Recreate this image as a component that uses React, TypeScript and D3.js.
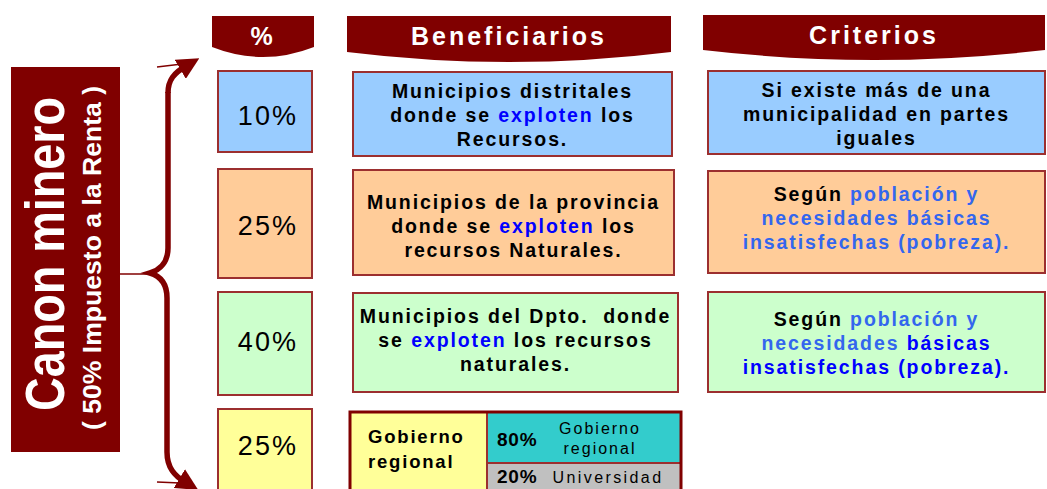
import React from "react";
import * as d3 from "d3";

// ---------- data ----------
const K = "#000000";
const B = "#0000ff";
const LB = "#3366ee";

const headers = ["%", "Beneficiarios", "Criterios"];
const shares = ["10%", "25%", "40%", "25%"];
const rowFills = ["#99ccff", "#ffcc99", "#ccffcc", "#ffff99"];

type Seg = [string, string];
const beneficiarios: Seg[][][] = [
  [[["Municipios distritales", K]], [["donde se ", K], ["exploten", B], [" los", K]], [["Recursos.", K]]],
  [[["Municipios de la provincia", K]], [["donde se ", K], ["exploten", B], [" los", K]], [["recursos Naturales.", K]]],
  [[["Municipios del Dpto.  donde", K]], [["se ", K], ["exploten", B], [" los recursos", K]], [["naturales.", K]]],
];
const criterios: Seg[][][] = [
  [[["Si existe más de una", K]], [["municipalidad en partes", K]], [["iguales", K]]],
  [[["Según ", K], ["población y", LB]], [["necesidades básicas", LB]], [["insatisfechas (pobreza).", LB]]],
  [[["Según ", K], ["población y", LB]], [["necesidades ", LB], ["básicas", B]], [["insatisfechas (pobreza).", B]]],
];
const regionLabel = ["Gobierno", "regional"];
const subShares = ["80%", "20%"];
const subNames = [["Gobierno", "regional"], ["Universidad"]];
const subFills = ["#33cccc", "#c0c0c0"];
const titleMain = "Canon minero";
const titleSub = "( 50% Impuesto a la Renta )";

// ---------- layout ----------
const W = 1047, H = 489;
const DARK = "#800000";
const EDGE = "#9c2f2f";
const FONT = "'Liberation Sans', Arial, sans-serif";

const headerBoxes = [
  { x0: 212, x1: 314, top: 16, side: 47, mid: 57 },
  { x0: 347, x1: 671, top: 16, side: 52, mid: 62 },
  { x0: 703, x1: 1045, top: 15, side: 50, mid: 60 },
];
const pctBoxes = [
  { x0: 218, x1: 312, y0: 71, y1: 152, dy: 4 },
  { x0: 218, x1: 312, y0: 169, y1: 278, dy: 2 },
  { x0: 218, x1: 312, y0: 292, y1: 395, dy: -2 },
  { x0: 218, x1: 312, y0: 409, y1: 500, dy: -9 },
];
const benBoxes = [
  { x0: 353, x1: 672, y0: 72, y1: 156, dy: 8 },
  { x0: 353, x1: 674, y0: 170, y1: 275, dy: 10 },
  { x0: 353, x1: 678, y0: 293, y1: 392, dy: 4.5 },
];
const critBoxes = [
  { x0: 708, x1: 1045, y0: 71, y1: 154, dy: 8.5 },
  { x0: 708, x1: 1045, y0: 171, y1: 273, dy: 3 },
  { x0: 708, x1: 1045, y0: 292, y1: 392, dy: 8 },
];
const bottom = { x0: 350, split: 487, x1: 681, y0: 412, mid: 463, y1: 500 };

const LINE = 24;

function MultiLine({ lines, cx, cy }: { lines: Seg[][]; cx: number; cy: number }) {
  const n = lines.length;
  const pos = d3.scaleLinear().domain([0, n - 1]).range([cy - (LINE * (n - 1)) / 2, cy + (LINE * (n - 1)) / 2]);
  return (
    <g>
      {lines.map((segs, i) => (
        <text
          key={i}
          x={cx}
          y={pos(i)}
          textAnchor="middle"
          fontFamily={FONT}
          fontWeight="bold"
          fontSize={19.5}
          style={{ letterSpacing: "1.9px", whiteSpace: "pre" }}
        >
          {segs.map(([t, c], j) => (
            <tspan key={j} fill={c}>
              {t}
            </tspan>
          ))}
        </text>
      ))}
    </g>
  );
}

function bannerPath(b: { x0: number; x1: number; top: number; side: number; mid: number }) {
  const p = d3.path();
  const xm = (b.x0 + b.x1) / 2;
  p.moveTo(b.x0, b.top);
  p.lineTo(b.x1, b.top);
  p.lineTo(b.x1, b.side);
  p.quadraticCurveTo(xm, 2 * b.mid - b.side, b.x0, b.side);
  p.closePath();
  return p.toString();
}

export default function App() {
  const fill = d3.scaleOrdinal<number, string>().domain([0, 1, 2, 3]).range(rowFills);

  const brace = d3.path();
  brace.moveTo(168, 92);
  brace.lineTo(168, 248);
  brace.bezierCurveTo(168, 262, 160, 270, 150, 273);
  brace.bezierCurveTo(160, 276, 167, 284, 167, 298);
  brace.lineTo(167, 452);
  brace.bezierCurveTo(167, 468, 175, 476, 185, 482);

  return (
    <svg
      width={W}
      height={H}
      viewBox={`0 0 ${W} ${H}`}
      style={{ position: "absolute", left: 0, top: 0, background: "#ffffff" }}
    >
      <defs>
        <marker id="arr" viewBox="0 0 10 10" refX="3" refY="5" markerWidth="4" markerHeight="4" orient="auto" markerUnits="strokeWidth">
          <path d="M0,0 L10,5 L0,10 Z" fill={DARK} />
        </marker>
      </defs>

      {/* headers */}
      {headers.map((h, i) => {
        const b = headerBoxes[i];
        return (
          <g key={h}>
            <path d={bannerPath(b)} fill={DARK} />
            <text
              x={(b.x0 + b.x1) / 2}
              y={b.top + 29}
              textAnchor="middle"
              fill="#ffffff"
              fontFamily={FONT}
              fontWeight="bold"
              fontSize={25}
              style={{ letterSpacing: "3px" }}
            >
              {h}
            </text>
          </g>
        );
      })}

      {/* left title */}
      <rect x={11} y={67} width={109} height={385} fill={DARK} />
      <text
        transform="translate(64,254) rotate(-90)"
        textAnchor="middle"
        fill="#ffffff"
        fontFamily={FONT}
        fontWeight="bold"
        fontSize={56}
        textLength={314}
        lengthAdjust="spacingAndGlyphs"
      >
        {titleMain}
      </text>
      <text
        transform="translate(101,258) rotate(-90)"
        textAnchor="middle"
        fill="#ffffff"
        fontFamily={FONT}
        fontWeight="bold"
        fontSize={25}
        textLength={344}
        lengthAdjust="spacingAndGlyphs"
      >
        {titleSub}
      </text>

      {/* brace */}
      <line x1={120} y1={274} x2={151} y2={274} stroke={DARK} strokeWidth={1.5} />
      <path d={brace.toString()} fill="none" stroke={DARK} strokeWidth={5.5} markerEnd="url(#arr)" />
      <path d="M168,93 C168,80 174,73 186,66" fill="none" stroke={DARK} strokeWidth={5.5} markerEnd="url(#arr)" />
      <line x1={157} y1={67} x2={182} y2={64} stroke={DARK} strokeWidth={1.5} />
      <line x1={157} y1={482} x2={180} y2={483} stroke={DARK} strokeWidth={1.5} />

      {/* percentage column */}
      {shares.map((s, i) => {
        const b = pctBoxes[i];
        return (
          <g key={i}>
            <rect x={b.x0} y={b.y0} width={b.x1 - b.x0} height={b.y1 - b.y0} fill={fill(i)} stroke={EDGE} strokeWidth={2} />
            <text
              x={(b.x0 + b.x1) / 2 + 3}
              y={(b.y0 + b.y1) / 2 + 9.5 + b.dy}
              textAnchor="middle"
              fontFamily={FONT}
              fontSize={27}
              fill="#000"
              style={{ letterSpacing: "2.2px" }}
            >
              {s}
            </text>
          </g>
        );
      })}

      {/* beneficiarios */}
      {beneficiarios.map((lines, i) => {
        const b = benBoxes[i];
        return (
          <g key={i}>
            <rect x={b.x0} y={b.y0} width={b.x1 - b.x0} height={b.y1 - b.y0} fill={fill(i)} stroke={EDGE} strokeWidth={2} />
            <MultiLine lines={lines} cx={(b.x0 + b.x1) / 2} cy={(b.y0 + b.y1) / 2 + b.dy} />
          </g>
        );
      })}

      {/* criterios */}
      {criterios.map((lines, i) => {
        const b = critBoxes[i];
        return (
          <g key={i}>
            <rect x={b.x0} y={b.y0} width={b.x1 - b.x0} height={b.y1 - b.y0} fill={fill(i)} stroke={EDGE} strokeWidth={2} />
            <MultiLine lines={lines} cx={(b.x0 + b.x1) / 2} cy={(b.y0 + b.y1) / 2 + b.dy} />
          </g>
        );
      })}

      {/* bottom split box */}
      <g>
        <rect x={bottom.x0} y={bottom.y0} width={bottom.split - bottom.x0} height={bottom.y1 - bottom.y0} fill={fill(3)} />
        <rect x={bottom.split} y={bottom.y0} width={bottom.x1 - bottom.split} height={bottom.mid - bottom.y0} fill={subFills[0]} />
        <rect x={bottom.split} y={bottom.mid} width={bottom.x1 - bottom.split} height={bottom.y1 - bottom.mid} fill={subFills[1]} />
        <line x1={bottom.split} y1={bottom.mid} x2={bottom.x1} y2={bottom.mid} stroke={EDGE} strokeWidth={2} />
        <line x1={bottom.split} y1={bottom.y0} x2={bottom.split} y2={bottom.y1} stroke={EDGE} strokeWidth={2} />
        <rect x={bottom.x0} y={bottom.y0} width={bottom.x1 - bottom.x0} height={bottom.y1 - bottom.y0} fill="none" stroke={DARK} strokeWidth={3} />
        {regionLabel.map((t, i) => (
          <text
            key={t}
            x={368}
            y={443 + i * 25}
            fontFamily={FONT}
            fontWeight="bold"
            fontSize={18.5}
            style={{ letterSpacing: "1.8px" }}
          >
            {t}
          </text>
        ))}
        {subShares.map((s, i) => (
          <text
            key={s}
            x={497}
            y={i === 0 ? 446 : 483}
            fontFamily={FONT}
            fontWeight="bold"
            fontSize={19}
            style={{ letterSpacing: "0.8px" }}
          >
            {s}
          </text>
        ))}
        {subNames[0].map((t, i) => (
          <text
            key={t}
            x={600}
            y={434 + i * 20}
            textAnchor="middle"
            fontFamily={FONT}
            fontSize={16}
            style={{ letterSpacing: "2px" }}
          >
            {t}
          </text>
        ))}
        <text x={608} y={483} textAnchor="middle" fontFamily={FONT} fontSize={16} style={{ letterSpacing: "2.4px" }}>
          {subNames[1][0]}
        </text>
      </g>
    </svg>
  );
}
